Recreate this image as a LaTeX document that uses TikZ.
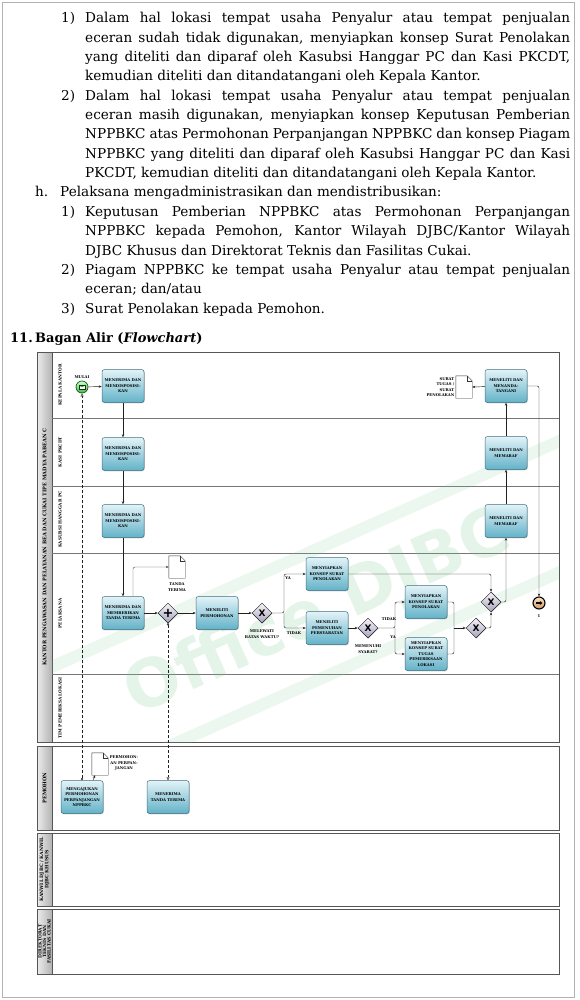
\documentclass[tikz,border=0pt]{standalone}
\usepackage{fontspec}
\setmainfont{DejaVu Serif}
\newfontfamily\wmfont{DejaVu Sans}
\usetikzlibrary{shapes.geometric,arrows.meta,shadows}

\definecolor{tasktop}{HTML}{E3F3F8}
\definecolor{taskbot}{HTML}{62B2C8}
\definecolor{taskline}{HTML}{3E6F80}
\definecolor{gwtop}{HTML}{F6F4FA}
\definecolor{gwbot}{HTML}{A8A2BE}
\definecolor{poolline}{HTML}{555555}
\definecolor{wmgreen}{HTML}{7CCB8E}

\newcommand{\tinyfont}{\fontsize{3.8}{5.4}\selectfont\bfseries}
\newcommand{\jl}[1]{\makebox[485pt][s]{#1}}
\newcommand{\docoutline}[1]{%
  \draw[fill=white, draw=gray!40!black, line width=0.4pt] (#1.south west) -- (#1.north west)
    -- ([xshift=-5pt]#1.north east) -- ([yshift=-5pt]#1.north east) -- (#1.south east) -- cycle;
  \draw[gray!40!black, line width=0.4pt] ([xshift=-5pt]#1.north east) -- ([xshift=-5pt,yshift=-5pt]#1.north east)
    -- ([yshift=-5pt]#1.north east);}

\begin{document}
\begin{tikzpicture}[x=1pt,y=-1pt,>={Stealth[length=3pt,width=2.4pt]}]
  \tikzstyle{body}=[anchor=base west, inner sep=0, font=\fontsize{13.6}{16}\selectfont]
  \tikzstyle{pool}=[draw=poolline, line width=0.9pt, fill=white]
  \tikzstyle{poolbar}=[draw=poolline, line width=0.6pt, left color=gray!15, right color=gray!60]
  \tikzstyle{lane}=[draw=poolline!80, line width=0.7pt]
  \tikzstyle{poollab}=[rotate=90, align=center, inner sep=0, font=\fontsize{5}{5.6}\selectfont\bfseries]
  \tikzstyle{lanelab}=[rotate=90, align=center, inner sep=0, font=\fontsize{4.2}{5}\selectfont\bfseries]
  \tikzstyle{task}=[draw=taskline, line width=0.5pt, rounded corners=2.5pt, top color=tasktop, bottom color=taskbot,
    minimum width=42pt, minimum height=33pt, text width=40pt, align=center, inner sep=1pt, font=\tinyfont,
    drop shadow={shadow xshift=0.8pt, shadow yshift=-0.8pt, opacity=0.35}]
  \tikzstyle{gateway}=[diamond, draw=gray!20!black, line width=0.5pt, top color=gwtop, bottom color=gwbot,
    minimum width=20pt, minimum height=20pt, inner sep=0, font=\wmfont\bfseries\fontsize{9}{9}\selectfont,
    drop shadow={shadow xshift=0.6pt, shadow yshift=-0.6pt, opacity=0.3}]
  \tikzstyle{doc}=[minimum width=16pt, minimum height=22pt, inner sep=0]
  \tikzstyle{lbl}=[font=\tinyfont, inner sep=0.5pt, align=center]
  \tikzstyle{flow}=[->, draw=gray!25!black, line width=0.45pt, rounded corners=2pt]
  \tikzstyle{msg}=[densely dashed, draw=gray!25!black, line width=0.4pt,
    {Circle[open,length=2.2pt]}-{Triangle[open,length=3pt,width=3pt]}]

  \useasboundingbox (0,0) rectangle (580,1000);
  \draw[gray!60, line width=0.8pt] (2.5,2.5) rectangle (574.5,997.5);

  % Text above the chart
  \node[body] (n1) at (61,23) {1)};
  \node[body] (l1) at (85,23) {\jl{Dalam hal lokasi tempat usaha Penyalur atau tempat penjualan}};
  \node[body] (l2) at (85,42.3) {\jl{eceran sudah tidak digunakan, menyiapkan konsep Surat Penolakan}};
  \node[body] (l3) at (85,61.7) {\jl{yang diteliti dan diparaf oleh Kasubsi Hanggar PC dan Kasi PKCDT,}};
  \node[body] (l4) at (85,81) {kemudian diteliti dan ditandatangani oleh Kepala Kantor.};
  \node[body] (n2) at (61,100.3) {2)};
  \node[body] (l5) at (85,100.3) {\jl{Dalam hal lokasi tempat usaha Penyalur atau tempat penjualan}};
  \node[body] (l6) at (85,119.7) {\jl{eceran masih digunakan, menyiapkan konsep Keputusan Pemberian}};
  \node[body] (l7) at (85,139) {\jl{NPPBKC atas Permohonan Perpanjangan NPPBKC dan konsep Piagam}};
  \node[body] (l8) at (85,158.3) {\jl{NPPBKC yang diteliti dan diparaf oleh Kasubsi Hanggar PC dan Kasi}};
  \node[body] (l9) at (85,177.7) {PKCDT, kemudian diteliti dan ditandatangani oleh Kepala Kantor.};
  \node[body] (nh) at (35,197) {h.};
  \node[body] (l10) at (60,197) {Pelaksana mengadministrasikan dan mendistribusikan:};
  \node[body] (n3) at (61,216.3) {1)};
  \node[body] (l11) at (85,216.3) {\jl{Keputusan Pemberian NPPBKC atas Permohonan Perpanjangan}};
  \node[body] (l12) at (85,235.7) {\jl{NPPBKC kepada Pemohon, Kantor Wilayah DJBC/Kantor Wilayah}};
  \node[body] (l13) at (85,255) {DJBC Khusus dan Direktorat Teknis dan Fasilitas Cukai.};
  \node[body] (n4) at (61,274.3) {2)};
  \node[body] (l14) at (85,274.3) {\jl{Piagam NPPBKC ke tempat usaha Penyalur atau tempat penjualan}};
  \node[body] (l15) at (85,293.7) {eceran; dan/atau};
  \node[body] (n5) at (61,313) {3)};
  \node[body] (l16) at (85,313) {Surat Penolakan kepada Pemohon.};
  \node[body, font=\fontsize{13}{16}\selectfont\bfseries] (n11) at (10,342) {11.};
  \node[body, font=\fontsize{13}{16}\selectfont\bfseries] (title) at (35,342) {Bagan Alir (\textit{Flowchart})};

  % Pools and lanes
  \draw[pool] (37,352) rectangle (559,742);
  \draw[poolbar] (37,352) rectangle (52,742);
  \draw[lane] (52,418) -- (559,418);
  \draw[lane] (52,486) -- (559,486);
  \draw[lane] (52,553) -- (559,553);
  \draw[lane] (52,674) -- (559,674);
  \draw[pool] (37,746) rectangle (559,830);
  \draw[poolbar] (37,746) rectangle (52,830);
  \draw[pool] (37,833) rectangle (559,906);
  \draw[poolbar] (37,833) rectangle (52,906);
  \draw[pool] (37,909) rectangle (559,974);
  \draw[poolbar] (37,909) rectangle (52,974);

  \node[poollab] (kppbc) at (44.5,547) {KANTOR PENGAWASAN DAN PELAYANAN BEA DAN CUKAI TIPE MADYA PABEAN C};
  \node[poollab] (pemohon) at (44.5,788) {PEMOHON};
  \node[poollab, font=\fontsize{4.6}{5.2}\selectfont\bfseries] (kanwil) at (44.5,869.5) {KANWIL DJBC / KANWIL\\DJBC KHUSUS};
  \node[poollab, font=\fontsize{4.4}{4.6}\selectfont\bfseries] (dit) at (44.5,941.5) {DIREKTORAT\\TEKNIS DAN\\FASILITAS CUKAI};
  \node[lanelab] (lkk) at (60,385) {KEPALA KANTOR};
  \node[lanelab] (lkasi) at (60,452) {KASI PKCDT};
  \node[lanelab] (lkasub) at (60,519.5) {KASUBSI HANGGAR PC};
  \node[lanelab] (lpel) at (60,613.5) {PELAKSANA};
  \node[lanelab] (ltim) at (60,708) {TIM PEMERIKSA LOKASI};

  % Watermark
  \begin{scope}
    \clip (52,352) rectangle (559,742);
    \fill[wmgreen, opacity=0.14, rotate around={24:(318,612)}] (20,548) rectangle (620,560);
    \fill[wmgreen, opacity=0.14, rotate around={24:(318,612)}] (20,668) rectangle (620,680);
  \end{scope}
  \node[rotate=24, text=wmgreen, opacity=0.2, font=\wmfont\bfseries\fontsize{66}{66}\selectfont] (wmark) at (318,614) {Office DJBC};

  % Events, tasks, gateways, documents
  \node[circle, minimum size=12pt, inner sep=0, draw=green!40!black, line width=0.7pt,
    top color=green!15, bottom color=green!55!black!70] (start) at (82,387) {};
  \draw[fill=white, draw=green!25!black, line width=0.3pt] ([shift={(-3pt,-2pt)}]start.center) rectangle ([shift={(3pt,2pt)}]start.center);
  \draw[green!25!black, line width=0.3pt] ([shift={(-3pt,2pt)}]start.center) -- (start.center) -- ([shift={(3pt,2pt)}]start.center);
  \node[lbl] (mulai) at (82,377.5) {MULAI};

  \node[task] (t1) at (123,386) {MENERIMA DAN\\MENDISPOSISI-\\KAN};
  \node[task] (t2) at (123,454) {MENERIMA DAN\\MENDISPOSISI-\\KAN};
  \node[task] (t3) at (123,521) {MENERIMA DAN\\MENDISPOSISI-\\KAN};
  \node[task] (t4) at (123,613) {MENERIMA DAN\\MEMBERIKAN\\TANDA TERIMA};
  \node[doc] (tt) at (177,567) {};
  \docoutline{tt}
  \node[lbl] (ttlab) at (177,587) {TANDA\\TERIMA};
  \node[gateway, font=\wmfont\bfseries\fontsize{13}{13}\selectfont] (pg) at (168,613) {+};
  \node[task] (t5) at (217,613) {MENELITI\\PERMOHONAN};
  \node[gateway] (x1) at (262,613) {X};
  \node[lbl] (x1lab) at (262,634) {MELEWATI\\BATAS WAKTU?};
  \node[task] (t6) at (327,574) {MENYIAPKAN\\KONSEP SURAT\\PENOLAKAN};
  \node[task] (t7) at (327,628) {MENELITI\\PEMENUHAN\\PERSYARATAN};
  \node[gateway] (x2) at (368,628) {X};
  \node[lbl] (x2lab) at (368,649) {MEMENUHI\\SYARAT?};
  \node[task] (t8) at (426,602) {MENYIAPKAN\\KONSEP SURAT\\PENOLAKAN};
  \node[task] (t9) at (426,654) {MENYIAPKAN\\KONSEP SURAT\\TUGAS\\PEMERIKSAAN\\LOKASI};
  \node[gateway] (x3) at (476,628) {X};
  \node[gateway] (x4) at (491,602) {X};
  \node[task] (t10) at (506,521) {MENELITI DAN\\MEMARAF};
  \node[task] (t11) at (506,453) {MENELITI DAN\\MEMARAF};
  \node[task] (t12) at (506,386) {MENELITI DAN\\MENANDA-\\TANGANI};
  \node[doc] (st) at (464,387) {};
  \docoutline{st}
  \node[lbl, anchor=east, align=right] (stlab) at (455,387) {SURAT\\TUGAS /\\SURAT\\PENOLAKAN};
  \node[circle, minimum size=12pt, inner sep=0, draw=black, line width=1.1pt,
    top color=orange!25, bottom color=brown!80] (endev) at (539,603) {};
  \draw[-{Triangle[length=2.6pt,width=3.8pt]}, line width=1.3pt] ([xshift=-3pt]endev.center) -- ([xshift=3.4pt]endev.center);
  \node[lbl] (endlab) at (539,616) {1};

  \node[task] (t13) at (82,797) {MENGAJUKAN\\PERMOHONAN\\PERPANJANGAN\\NPPBKC};
  \node[task] (t14) at (168,797) {MENERIMA\\TANDA TERIMA};
  \node[doc] (pp) at (100,764) {};
  \docoutline{pp}
  \node[lbl] (pplab) at (124,763) {PERMOHON-\\AN PERPAN-\\JANGAN};

  % Sequence flows
  \coordinate (s1) at (284,613);
  \coordinate (s2) at (395,628);
  \coordinate (s3) at (454,628);
  \draw[flow] (start) -- (t1);
  \draw[flow] (t1) -- (t2);
  \draw[flow] (t2) -- (t3);
  \draw[flow] (t3) -- (t4);
  \draw[flow, draw=gray!60!black] ([xshift=10pt]t4.north) |- (tt.west);
  \draw[flow] (t4) -- (pg);
  \draw[flow] (pg) -- (t5);
  \draw[flow] (t5) -- (x1);
  \draw[flow] (x1.east) -- (s1) |- (t6.west);
  \draw[flow] (s1) |- (t7.west);
  \draw[flow] (t7) -- (x2);
  \draw[flow] (x2.east) -- (s2) |- (t8.west);
  \draw[flow] (s2) |- (t9.west);
  \draw[flow, -] (t8.east) -| (s3);
  \draw[flow, -] (t9.east) -| (s3);
  \draw[flow] (s3) -- (x3.west);
  \draw[flow] (x3.east) -| (x4.south);
  \draw[flow] (t6.east) -| (x4.north);
  \draw[flow] (x4.east) -| (t10.south);
  \draw[flow] (t10) -- (t11);
  \draw[flow] (t11) -- (t12);
  \draw[flow] (t12) -- (st.east);
  \draw[flow] (t12.east) -| (endev.north);
  \draw[flow] ([xshift=11pt]t13.north) -- ([xshift=-5pt]pp.south);

  \node[lbl] (ya1) at (288,578) {YA};
  \node[lbl] (tidak1) at (294,633) {TIDAK};
  \node[lbl] (tidak2) at (389,619) {TIDAK};
  \node[lbl] (ya2) at (393,637) {YA};

  % Message flows
  \draw[msg] (t13.north) -- (start.south);
  \draw[msg] (pg.south) -- (t14.north);
\end{tikzpicture}
\end{document}
